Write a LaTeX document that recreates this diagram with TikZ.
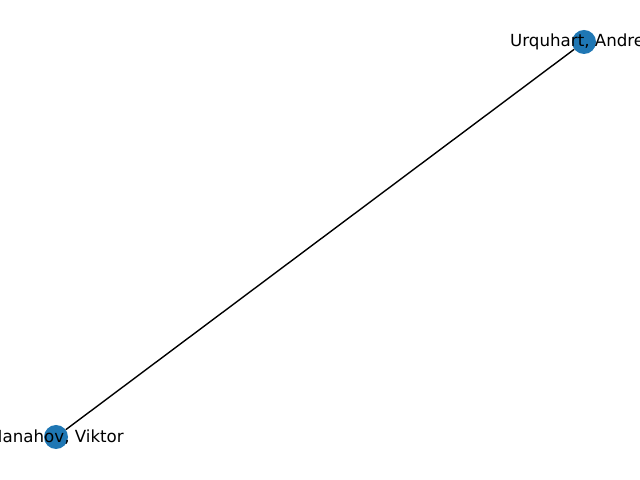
\documentclass[tikz,border=0pt]{standalone}
\usepackage{fontspec}
\setmainfont{DejaVu Sans}
\definecolor{nxblue}{HTML}{1F77B4}
\tikzset{
  vertex/.style={circle,fill=nxblue,inner sep=0pt,minimum size=24bp},
  lbl/.style={font=\fontsize{16.67bp}{20bp}\selectfont,inner sep=0pt,text=black},
  link/.style={draw=black,line width=1.4bp}
}
\begin{document}
\begin{tikzpicture}[x=1bp,y=1bp]
\useasboundingbox (0,0) rectangle (640,480);
\clip (0,0) rectangle (640,480);
\node[vertex] (m) at (56,43) {};
\node[vertex] (u) at (584,438) {};
\draw[link] (m) -- (u);
\node[lbl] (ml) at (56,43) {Manahov, Viktor};
\node[lbl] (ul) at (584,438) {Urquhart, Andrew};
\end{tikzpicture}
\end{document}
